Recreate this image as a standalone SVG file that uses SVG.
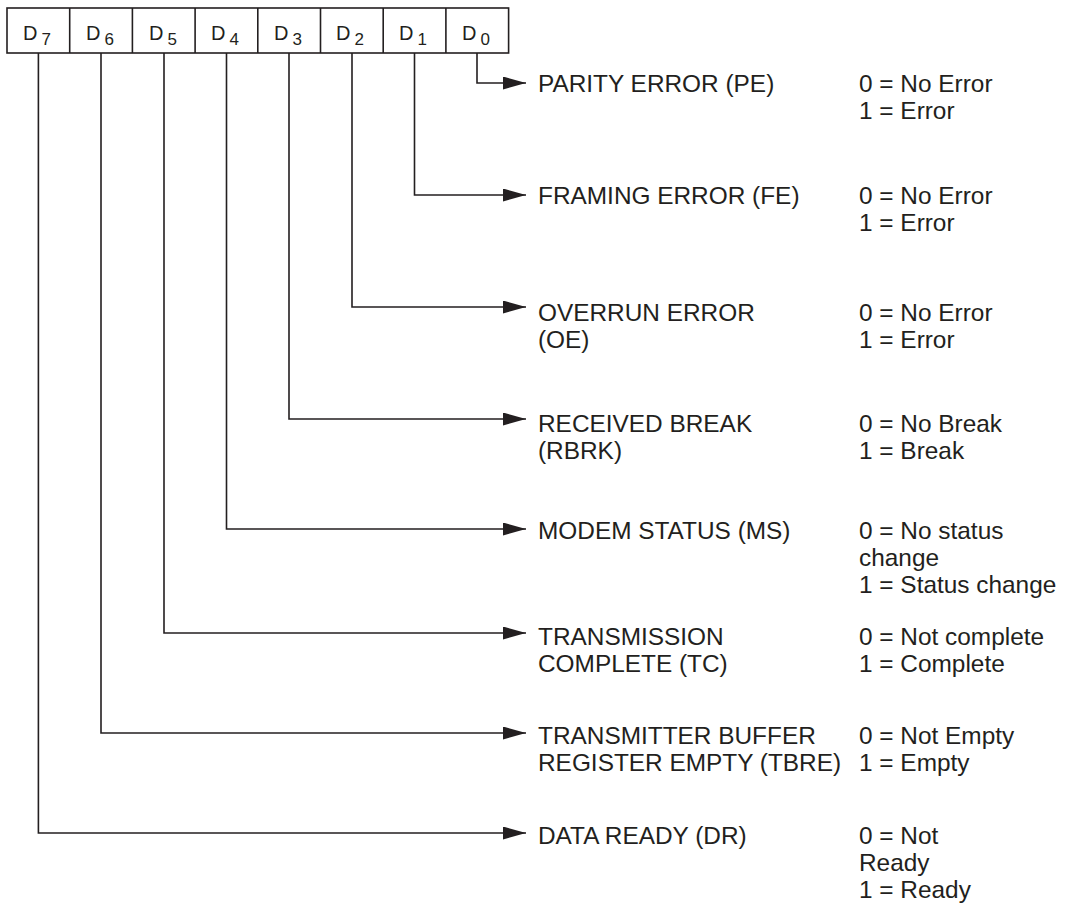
<svg xmlns="http://www.w3.org/2000/svg" width="1068" height="904" viewBox="0 0 1068 904">
<style>
text{font-family:"Liberation Sans",Arial,sans-serif;fill:#231f20}
.lbl{font-size:24.4px}
.bit{font-size:20px}
.sub{font-size:17px}
.cell{fill:#fff;stroke:#231f20;stroke-width:1.6}
.wire{fill:none;stroke:#231f20;stroke-width:1.6}
</style>
<defs>
<marker id="ah" markerUnits="userSpaceOnUse" markerWidth="23" markerHeight="13" refX="23" refY="6.5" orient="auto">
<path d="M0,0 L23,6.5 L0,13 z" fill="#231f20"/>
</marker>
</defs>
<g id="register">
<rect class="cell" x="7" y="8" width="501.6" height="45"/>
<g class="wire">
<line x1="69.7" y1="8" x2="69.7" y2="53"/>
<line x1="132.4" y1="8" x2="132.4" y2="53"/>
<line x1="195.1" y1="8" x2="195.1" y2="53"/>
<line x1="257.8" y1="8" x2="257.8" y2="53"/>
<line x1="320.5" y1="8" x2="320.5" y2="53"/>
<line x1="383.2" y1="8" x2="383.2" y2="53"/>
<line x1="445.9" y1="8" x2="445.9" y2="53"/>
</g>
<text class="bit" x="23" y="40">D<tspan class="sub" dx="4" dy="5">7</tspan></text>
<text class="bit" x="86" y="40">D<tspan class="sub" dx="4" dy="5">6</tspan></text>
<text class="bit" x="149" y="40">D<tspan class="sub" dx="4" dy="5">5</tspan></text>
<text class="bit" x="211" y="40">D<tspan class="sub" dx="4" dy="5">4</tspan></text>
<text class="bit" x="274" y="40">D<tspan class="sub" dx="4" dy="5">3</tspan></text>
<text class="bit" x="336" y="40">D<tspan class="sub" dx="4" dy="5">2</tspan></text>
<text class="bit" x="399" y="40">D<tspan class="sub" dx="4" dy="5">1</tspan></text>
<text class="bit" x="462" y="40">D<tspan class="sub" dx="4" dy="5">0</tspan></text>
</g>
<g id="connectors" class="wire">
<path d="M477,53 V83 H526" marker-end="url(#ah)"/>
<path d="M414.5,53 V195 H526" marker-end="url(#ah)"/>
<path d="M352,53 V307 H526" marker-end="url(#ah)"/>
<path d="M289,53 V419 H526" marker-end="url(#ah)"/>
<path d="M226.5,53 V529 H526" marker-end="url(#ah)"/>
<path d="M164,53 V633 H526" marker-end="url(#ah)"/>
<path d="M101,53 V733 H526" marker-end="url(#ah)"/>
<path d="M38.4,53 V833 H526" marker-end="url(#ah)"/>
</g>
<g id="pe" class="lbl">
<text x="538" y="92">PARITY ERROR (PE)</text>
<text x="859" y="92">0 = No Error</text>
<text x="859" y="119">1 = Error</text>
</g>
<g id="fe" class="lbl">
<text x="538" y="204">FRAMING ERROR (FE)</text>
<text x="859" y="204">0 = No Error</text>
<text x="859" y="231">1 = Error</text>
</g>
<g id="oe" class="lbl">
<text x="538" y="321">OVERRUN ERROR</text>
<text x="538" y="348">(OE)</text>
<text x="859" y="321">0 = No Error</text>
<text x="859" y="348">1 = Error</text>
</g>
<g id="rbrk" class="lbl">
<text x="538" y="432">RECEIVED BREAK</text>
<text x="538" y="459">(RBRK)</text>
<text x="859" y="432">0 = No Break</text>
<text x="859" y="459">1 = Break</text>
</g>
<g id="ms" class="lbl">
<text x="538" y="539">MODEM STATUS (MS)</text>
<text x="859" y="539">0 = No status</text>
<text x="859" y="566">change</text>
<text x="859" y="593">1 = Status change</text>
</g>
<g id="tc" class="lbl">
<text x="538" y="645">TRANSMISSION</text>
<text x="538" y="672">COMPLETE (TC)</text>
<text x="859" y="645">0 = Not complete</text>
<text x="859" y="672">1 = Complete</text>
</g>
<g id="tbre" class="lbl">
<text x="538" y="744">TRANSMITTER BUFFER</text>
<text x="538" y="771">REGISTER EMPTY (TBRE)</text>
<text x="859" y="744">0 = Not Empty</text>
<text x="859" y="771">1 = Empty</text>
</g>
<g id="dr" class="lbl">
<text x="538" y="844">DATA READY (DR)</text>
<text x="859" y="844">0 = Not</text>
<text x="859" y="871">Ready</text>
<text x="859" y="898">1 = Ready</text>
</g>
</svg>
